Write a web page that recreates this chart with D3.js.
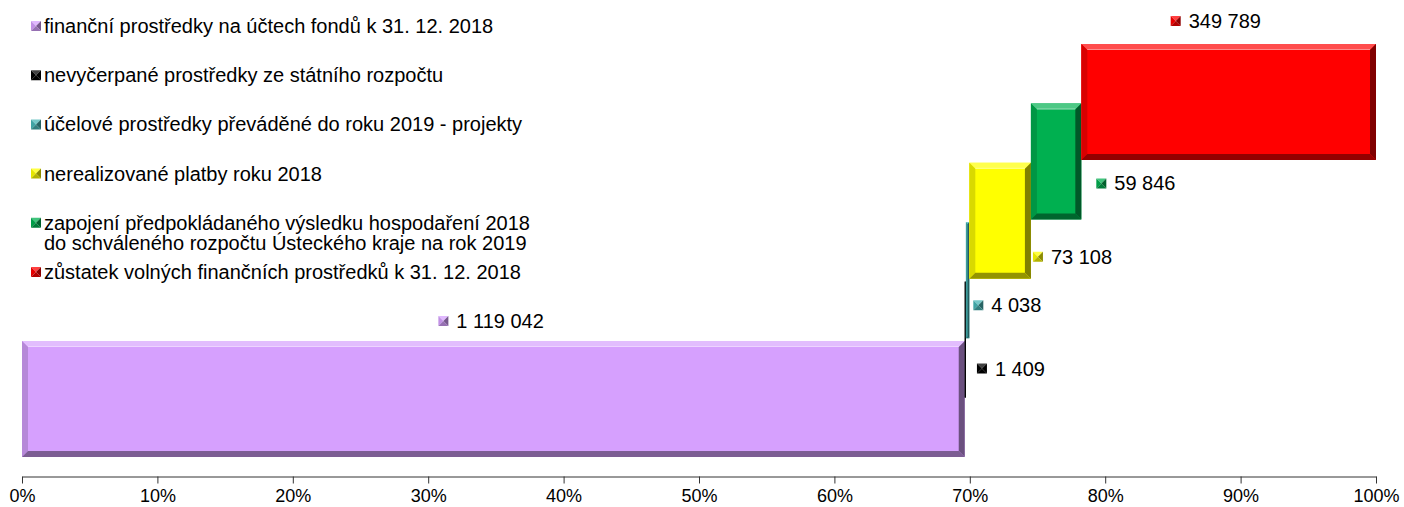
<!DOCTYPE html>
<html>
<head>
<meta charset="utf-8">
<script src="https://cdn.jsdelivr.net/npm/d3@7"></script>
<style>
  body { margin: 0; background: #fff; }
  text { font-family: "Liberation Sans", Arial, sans-serif; fill: #000; }
</style>
</head>
<body>
<div id="chart"></div>
<script>
// data
var seriesNames = [
    "finanční prostředky na účtech fondů k 31. 12. 2018",
    "nevyčerpané prostředky ze státního rozpočtu",
    "účelové prostředky převáděné do roku 2019 - projekty",
    "nerealizované platby roku 2018",
    "zapojení předpokládaného výsledku hospodaření 2018\ndo schváleného rozpočtu Ústeckého kraje na rok 2019",
    "zůstatek volných finančních prostředků k 31. 12. 2018"
];
var values = [1119042, 1409, 4038, 73108, 59846, 349789];
var colors = ["#d6a0fe", "#000000", "#47b6b6", "#ffff00", "#00b050", "#ff0000"];
var tickPercents = [0, 10, 20, 30, 40, 50, 60, 70, 80, 90, 100];

// label placement (layout only)
var labelAt = ["mid", "end", "end", "end", "end", "mid"];
var labelDx = [-55, 11, 4, 2, 15, -58];
var labelDy = [-20, 87, 83, 94, 80, -23];

var width = 1404, height = 507;
var total = d3.sum(values);
var ends = d3.cumsum(values);

var x = d3.scaleLinear().domain([0, 100]).range([22, 1376]);
var yTop = d3.scaleLinear().domain([0, values.length - 1]).range([341, 44]);
var barH = 116;
var legendY = d3.scaleLinear().domain([0, seriesNames.length - 1]).range([26, 272]);

var fmt = d3.formatLocale({decimal: ",", thousands: " ", grouping: [3], currency: ["", ""]}).format(",d");

var svg = d3.select("#chart")
    .append("svg")
    .attr("width", width)
    .attr("height", height);

function mix(c, other, t) {
    return d3.interpolateRgb(c, other)(t);
}

// beveled bar like the excel 3d effect
function bevelBar(g, x0, y0, w, h, c) {
    var x1 = x0 + w, y1 = y0 + h;
    var b = Math.min(6, w / 2, h / 2);
    g.append("rect")
        .attr("x", x0).attr("y", y0)
        .attr("width", w).attr("height", h)
        .attr("fill", c);
    var faces = [
        {pts: [[x0, y0], [x1, y0], [x1 - b, y0 + b], [x0 + b, y0 + b]], fill: mix(c, "#fff", 0.3)},
        {pts: [[x0, y0], [x0 + b, y0 + b], [x0 + b, y1 - b], [x0, y1]], fill: mix(c, "#000", 0.15)},
        {pts: [[x1, y0], [x1, y1], [x1 - b, y1 - b], [x1 - b, y0 + b]], fill: mix(c, "#000", 0.5)},
        {pts: [[x0, y1], [x0 + b, y1 - b], [x1 - b, y1 - b], [x1, y1]], fill: mix(c, "#000", 0.42)}
    ];
    g.selectAll(null)
        .data(faces)
        .enter()
        .append("polygon")
        .attr("points", function(d){ return d.pts.map(function(p){ return p.join(","); }).join(" "); })
        .attr("fill", function(d){ return d.fill; });
    // thin light line under top bevel
    if (w > 20) {
        g.append("line")
            .attr("x1", x0 + b).attr("x2", x1 - b)
            .attr("y1", y0 + b - 0.5).attr("y2", y0 + b - 0.5)
            .attr("stroke", mix(c, "#fff", 0.55))
            .attr("stroke-width", 1);
    }
}

// small pyramid marker
function marker(g, x0, y0, s, c) {
    var cx = x0 + s / 2, cy = y0 + s / 2;
    var tris = [
        {pts: [[x0, y0], [x0 + s, y0], [cx, cy]], fill: mix(c, "#fff", 0.25)},
        {pts: [[x0, y0], [cx, cy], [x0, y0 + s]], fill: mix(c, "#000", 0.1)},
        {pts: [[x0 + s, y0], [x0 + s, y0 + s], [cx, cy]], fill: mix(c, "#000", 0.45)},
        {pts: [[x0, y0 + s], [cx, cy], [x0 + s, y0 + s]], fill: mix(c, "#000", 0.3)}
    ];
    g.selectAll(null)
        .data(tris)
        .enter()
        .append("polygon")
        .attr("points", function(d){ return d.pts.map(function(p){ return p.join(","); }).join(" "); })
        .attr("fill", function(d){ return d.fill; });
}

// bars
var bars = svg.append("g");
values.forEach(function(v, i) {
    var start = (ends[i] - v) / total * 100;
    var end = ends[i] / total * 100;
    bevelBar(bars.append("g"), x(start), yTop(i), x(end) - x(start), barH, colors[i]);
});

// value labels
var labels = svg.append("g");
values.forEach(function(v, i) {
    var start = (ends[i] - v) / total * 100;
    var end = ends[i] / total * 100;
    var ax = labelAt[i] == "mid" ? (x(start) + x(end)) / 2 : x(end);
    var mx = ax + labelDx[i];
    var my = yTop(i) + labelDy[i];
    var g = labels.append("g");
    marker(g, mx, my - 5, 10, colors[i]);
    g.append("text")
        .attr("x", mx + 18)
        .attr("y", my + 7)
        .style("font-size", "20px")
        .text(fmt(v));
});

// legend
var legend = svg.append("g");
seriesNames.forEach(function(name, i) {
    var ly = legendY(i);
    var g = legend.append("g");
    marker(g, 31, ly - 5, 10, colors[i]);
    var t = g.append("text")
        .attr("x", 44)
        .attr("y", ly + 7)
        .style("font-size", "20px");
    name.split("\n").forEach(function(line, k) {
        t.append("tspan")
            .attr("x", 44)
            .attr("dy", k == 0 ? 0 : 20.5)
            .text(line);
    });
});

// axis
var axis = svg.append("g")
    .attr("transform", "translate(0,476.5)")
    .call(d3.axisBottom(x)
        .tickValues(tickPercents)
        .tickFormat(function(d){ return d + "%"; })
        .tickSize(7)
        .tickSizeOuter(0)
        .tickPadding(6));
axis.select(".domain").attr("stroke", "#333");
axis.selectAll(".tick line").attr("stroke", "#333");
axis.selectAll(".tick text")
    .style("font-size", "18px")
    .style("font-family", "'Liberation Sans', Arial, sans-serif")
    .attr("fill", "#000");
</script>
</body>
</html>
